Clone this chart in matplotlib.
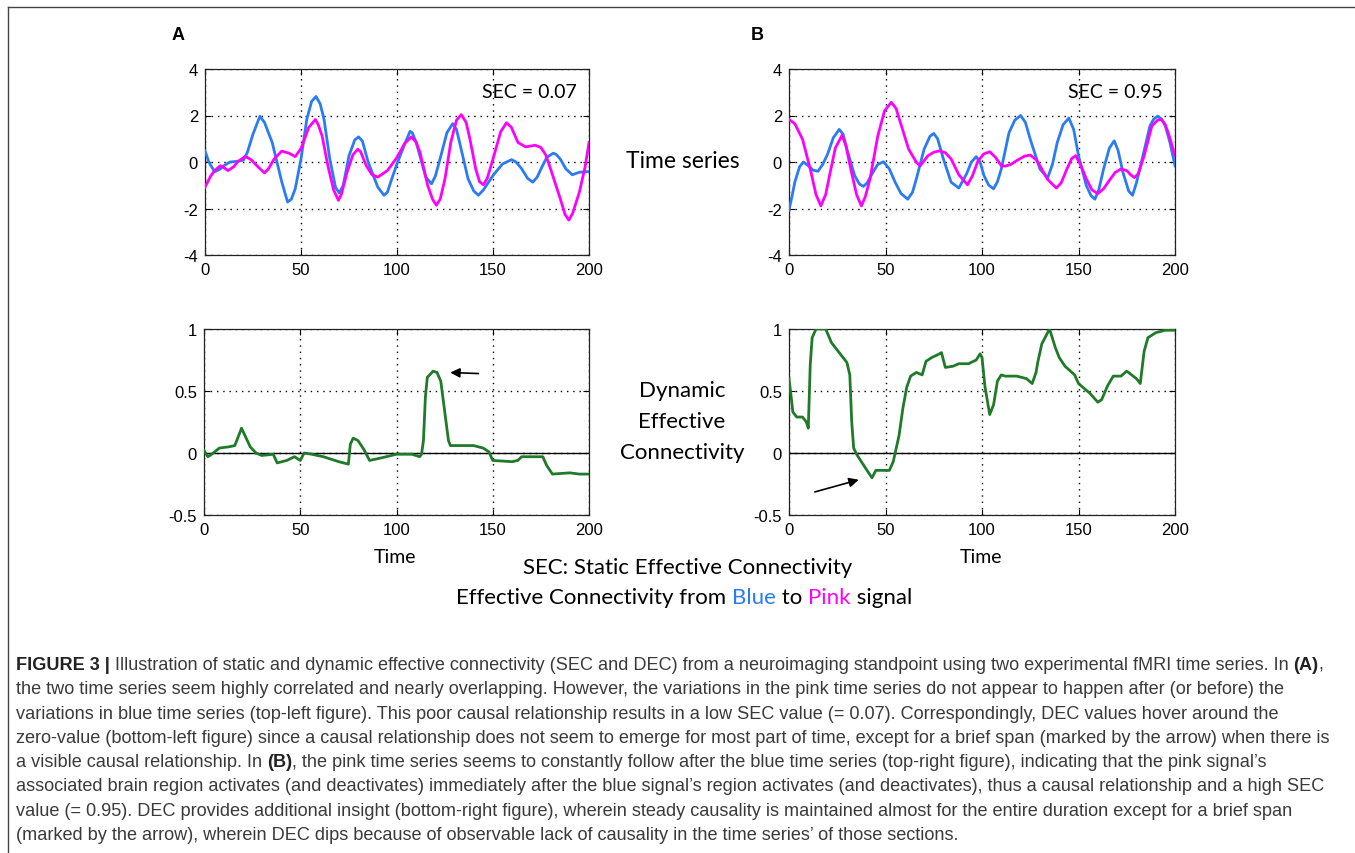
import matplotlib
matplotlib.use('Agg')
import matplotlib.pyplot as plt
from matplotlib.lines import Line2D

plt.rcParams['font.family'] = ['Liberation Sans', 'DejaVu Sans']

# ---- data ----
blue_a_t = [0, 2, 5, 8, 10, 13, 17, 20, 22, 25, 28.6, 31, 35, 40, 43, 45, 47, 50, 53, 55.5, 57.8, 60, 62, 65, 68, 70,
            72, 75, 78, 80, 82, 85, 90, 93.2, 95, 97, 100, 104, 106.8, 108, 110, 115, 118, 120, 122, 126, 129, 131, 133,
            137, 140, 142.4, 145, 150, 155, 159.7, 162, 165, 168, 170.7, 173, 175, 178, 181.4, 183, 185, 188, 191.3,
            195, 200]
blue_a_v = [0.48, 0.0, -0.42, -0.3, -0.15, 0.0, 0.03, 0.08, 0.4, 1.2, 1.97, 1.7, 0.84, -0.86, -1.72, -1.6, -1.15, 0.13,
            1.83, 2.6, 2.82, 2.5, 1.83, 0.13, -1.1, -1.33, -1.0, 0.27, 0.95, 1.08, 0.9, -0.01, -1.08, -1.43, -1.3, -0.79,
            -0.08, 0.77, 1.32, 1.25, 0.84, -0.65, -0.94, -0.6, 0.0, 1.26, 1.65, 1.4, 0.7, -0.72, -1.25, -1.43, -1.2,
            -0.58, -0.08, 0.1, 0.0, -0.3, -0.7, -0.87, -0.65, -0.3, 0.2, 0.38, 0.32, 0.13, -0.3, -0.55, -0.44, -0.41]

pink_a_t = [0, 3, 5, 8, 10, 12, 15, 17, 21, 24, 27, 31, 33, 36, 40, 44, 47, 50, 54, 57.5, 59, 61, 64, 67, 69.5, 71, 74,
            77, 79.5, 81, 84, 87, 90, 95, 100, 104, 107.5, 110, 112, 116, 118.5, 120.5, 122.5, 125, 128, 131, 133.5,
            136, 138, 141, 143, 145, 147, 150, 154, 157, 159.5, 163, 167, 172, 175, 177.5, 180, 185, 187.5, 189.5,
            191.5, 195, 198, 200]
pink_a_v = [-1.08, -0.6, -0.37, -0.16, -0.25, -0.37, -0.2, 0.01, 0.24, 0.1, -0.16, -0.47, -0.3, 0.13, 0.47, 0.37, 0.23,
            0.58, 1.48, 1.83, 1.6, 1.12, -0.16, -1.2, -1.65, -1.4, -0.44, 0.3, 0.55, 0.45, -0.16, -0.55, -0.65, -0.37,
            0.2, 0.8, 1.08, 0.85, 0.41, -1.01, -1.6, -1.86, -1.6, -0.72, 0.84, 1.8, 2.04, 1.7, 0.98, -0.3, -0.85, -0.98,
            -0.7, 0.13, 1.3, 1.69, 1.5, 0.84, 0.65, 0.72, 0.62, 0.3, -0.3, -1.57, -2.25, -2.5, -2.2, -1.29, -0.2, 0.84]

blue_b_t = [0, 1.5, 3, 5.5, 7.5, 10, 12.5, 15, 17.5, 20, 23, 26, 28, 30, 34, 36.5, 38.5, 40.5, 43, 46, 49, 52, 55, 58,
            61.5, 64, 66, 70, 73, 75, 77, 80, 84, 88, 92, 94.5, 97, 99, 101, 103.5, 106, 108, 110, 114, 117, 120, 122.5,
            125, 130, 134, 136.5, 139, 142, 145, 147.5, 150, 154, 156.5, 158.5, 160.5, 163, 166, 168.5, 170.5, 173,
            176, 178, 180, 183, 187, 189, 191, 193, 195, 197.5, 200]
blue_b_v = [-2.07, -1.5, -0.87, -0.2, 0.0, -0.16, -0.35, -0.4, -0.1, 0.34, 1.05, 1.4, 1.2, 0.55, -0.58, -0.95, -1.05,
            -0.9, -0.51, -0.1, 0.01, -0.3, -0.87, -1.35, -1.6, -1.3, -0.72, 0.55, 1.1, 1.23, 1.0, 0.13, -0.87, -1.12,
            -0.51, 0.0, 0.23, 0.0, -0.58, -1.0, -1.15, -0.85, -0.3, 1.26, 1.8, 2.0, 1.7, 0.98, -0.3, -0.69, -0.1, 0.84,
            1.6, 1.89, 1.4, 0.27, -1.0, -1.45, -1.6, -1.2, -0.3, 0.6, 0.91, 0.5, -0.44, -1.25, -1.43, -0.9, 0.13, 1.55,
            1.85, 1.97, 1.85, 1.55, 0.8, -0.16]

pink_b_t = [0, 3, 7, 11, 14, 16.5, 19, 21, 24, 27.5, 29.5, 32, 35, 37.5, 39.5, 42, 46, 49.5, 53, 55.5, 58, 62, 66, 68,
            72, 75, 78, 81, 84, 88, 92.5, 95, 98, 101, 104, 107, 110, 112, 115, 118, 122, 125, 128, 130, 134, 138.5,
            141, 144, 146.5, 148.5, 151, 154, 157, 160, 163, 166, 169, 172, 175, 177, 179, 181, 184, 188, 191, 193,
            195, 197, 200]
pink_b_v = [1.83, 1.65, 0.98, -0.3, -1.4, -1.89, -1.4, -0.58, 0.6, 1.15, 0.7, -0.3, -1.4, -1.89, -1.5, -0.72, 1.12, 2.2,
            2.57, 2.3, 1.62, 0.55, -0.01, -0.16, 0.27, 0.42, 0.48, 0.4, 0.13, -0.55, -0.98, -0.6, 0.06, 0.35, 0.44, 0.2,
            -0.16, -0.18, -0.1, 0.06, 0.25, 0.3, 0.1, -0.16, -0.75, -1.12, -0.9, -0.3, 0.15, 0.27, -0.1, -0.72, -1.2,
            -1.36, -1.15, -0.79, -0.45, -0.3, -0.37, -0.55, -0.67, -0.5, 0.27, 1.55, 1.8, 1.83, 1.6, 1.12, 0.27]

dec_a_t = [0, 2, 4, 8, 13, 16, 18, 19.5, 21, 24, 27, 30, 36, 38, 43, 47, 50, 52, 56, 62, 70, 75, 76, 77.5, 80, 83, 86,
           92, 100, 108, 112, 113, 114, 115, 116, 119, 121, 123, 125, 127, 128, 135, 140, 145, 148, 150, 160, 163, 165,
           170, 176, 178, 181, 190, 195, 200]
dec_a_v = [0.02, -0.03, -0.01, 0.04, 0.05, 0.06, 0.14, 0.2, 0.15, 0.05, 0.0, -0.02, -0.01, -0.08, -0.06, -0.03, -0.06,
           0.0, -0.01, -0.03, -0.07, -0.09, 0.07, 0.12, 0.1, 0.03, -0.06, -0.04, -0.01, -0.01, -0.03, -0.01, 0.1, 0.45,
           0.61, 0.66, 0.65, 0.58, 0.34, 0.1, 0.06, 0.06, 0.06, 0.04, 0.01, -0.06, -0.07, -0.06, -0.03, -0.03, -0.03,
           -0.1, -0.17, -0.16, -0.17, -0.17]

dec_b_t = [0, 1, 2, 4, 7, 9, 10, 11, 12, 14, 19, 22, 26, 30, 31.5, 32.5, 33.5, 35, 40, 43, 45, 48, 52, 54, 57, 59, 61,
           63, 66, 69, 71, 74, 78, 79, 81, 85, 88, 93, 97, 99, 100, 101.5, 103, 104, 106, 108, 110, 112, 118, 123, 126,
           128, 129, 131, 134, 135, 138, 140, 143, 148, 150, 153, 156, 160, 162, 165, 168, 172, 175, 180, 182, 183,
           184, 186, 190, 195, 200]
dec_b_v = [0.6, 0.47, 0.33, 0.29, 0.29, 0.25, 0.2, 0.71, 0.93, 1.0, 1.0, 0.89, 0.81, 0.73, 0.63, 0.25, 0.04, -0.01,
           -0.13, -0.2, -0.14, -0.14, -0.14, -0.07, 0.14, 0.36, 0.53, 0.62, 0.65, 0.63, 0.74, 0.77, 0.8, 0.81, 0.69, 0.7,
           0.72, 0.72, 0.75, 0.8, 0.77, 0.54, 0.4, 0.31, 0.39, 0.58, 0.63, 0.62, 0.62, 0.6, 0.56, 0.65, 0.74, 0.88, 0.97,
           1.0, 0.85, 0.77, 0.7, 0.63, 0.56, 0.52, 0.48, 0.41, 0.43, 0.54, 0.62, 0.62, 0.66, 0.6, 0.56, 0.69, 0.82, 0.93,
           0.97, 0.99, 0.99]

x_ticks = [0, 50, 100, 150, 200]
ts_ticks = [-4, -2, 0, 2, 4]
dec_ticks = [-0.5, 0, 0.5, 1]
sec_labels = ['SEC = 0.07', 'SEC = 0.95']
arrow_a = ((144, 0.64), (126.5, 0.65))
arrow_b = ((12, -0.32), (37.5, -0.21))

BLUE = '#2a7bf4'
PINK = '#ff00ff'
GREEN = '#1f7a2a'
TXT = 'Lato'

W, H = 1355, 854
fig = plt.figure(figsize=(W / 100, H / 100), dpi=100)
fig.patch.set_facecolor('white')


def make_axes(left, top, right, bottom):
    return fig.add_axes([left / W, 1 - bottom / H, (right - left) / W, (bottom - top) / H])


def style(ax, yticks):
    ax.set_xlim(0, 200)
    ax.set_ylim(yticks[0], yticks[-1])
    ax.set_xticks(x_ticks)
    ax.set_yticks(yticks)
    ax.set_yticklabels([('%g' % v) for v in yticks])
    ax.tick_params(direction='in', top=True, right=True, length=4, width=0.8, labelsize=12, pad=5,
                   colors='black')
    ax.grid(True, color='black', linestyle=(0, (1, 3.5)), linewidth=1.0)
    for s in ax.spines.values():
        s.set_linewidth(0.9)
        s.set_color('#222222')


ax_ta = make_axes(205, 70, 589, 256)
ax_tb = make_axes(789, 70, 1175, 256)
ax_ba = make_axes(204, 330, 589, 516)
ax_bb = make_axes(789, 330, 1175, 516)

for ax, bt, bv, pt, pv, lab in [(ax_ta, blue_a_t, blue_a_v, pink_a_t, pink_a_v, sec_labels[0]),
                                (ax_tb, blue_b_t, blue_b_v, pink_b_t, pink_b_v, sec_labels[1])]:
    style(ax, ts_ticks)
    ax.plot(bt, bv, color=BLUE, lw=2.0, zorder=3)
    ax.plot(pt, pv, color=PINK, lw=2.0, zorder=3)
    ax.text(0.969, 0.88, lab, transform=ax.transAxes, ha='right', va='center', fontsize=14, family=TXT)

for ax, t, v, arr in [(ax_ba, dec_a_t, dec_a_v, arrow_a), (ax_bb, dec_b_t, dec_b_v, arrow_b)]:
    style(ax, dec_ticks)
    ax.axhline(0, color='black', lw=1.0, zorder=2)
    ax.plot(t, v, color=GREEN, lw=2.0, zorder=3)
    ax.annotate('', xy=arr[1], xytext=arr[0],
                arrowprops=dict(arrowstyle='-|>', color='black', lw=1.2, mutation_scale=14))


def ftext(x, y, s, **kw):
    return fig.text(x / W, 1 - y / H, s, **kw)


ftext(178, 35, 'A', ha='center', va='center', fontsize=13, fontweight='bold')
ftext(757, 35, 'B', ha='center', va='center', fontsize=13, fontweight='bold')
ftext(683, 162, 'Time series', ha='center', va='center', fontsize=16.5, family=TXT)
ftext(682, 422, 'Dynamic\nEffective\nConnectivity', ha='center', va='center', fontsize=16, family=TXT,
      linespacing=1.7)
ftext(395, 558, 'Time', ha='center', va='center', fontsize=14, family=TXT)
ftext(981, 558, 'Time', ha='center', va='center', fontsize=14, family=TXT)
ftext(688, 568, 'SEC: Static Effective Connectivity', ha='center', va='center', fontsize=16, family=TXT)

renderer = fig.canvas.get_renderer()


def piece_width(s, **kw):
    a = fig.text(0, 0, '|' + s + '|', **kw)
    b = fig.text(0, 0, '||', **kw)
    w = a.get_window_extent(renderer).width - b.get_window_extent(renderer).width
    a.remove()
    b.remove()
    return w


def draw_pieces(x, y, pieces, center=False, **kw):
    widths = [piece_width(s, **dict(kw, **p)) for s, p in pieces]
    if center:
        x = x - sum(widths) / 2
    for (s, p), w in zip(pieces, widths):
        ftext(x, y, s, va='baseline', **dict(kw, **p))
        x += w


draw_pieces(684, 604, [('Effective Connectivity from ', {}), ('Blue', {'color': BLUE}), (' to ', {}),
                       ('Pink', {'color': PINK}), (' signal', {})],
            center=True, fontsize=16, family=TXT)

# caption
BOLD = {'fontweight': 'bold', 'color': '#222222'}
caption = [
    [('FIGURE 3 | ', BOLD), ('Illustration of static and dynamic effective connectivity (SEC and DEC) from a '
                             'neuroimaging standpoint using two experimental fMRI time series. In ', {}),
     ('(A)', BOLD), (',', {})],
    [('the two time series seem highly correlated and nearly overlapping. However, the variations in the pink time '
      'series do not appear to happen after (or before) the', {})],
    [('variations in blue time series (top-left figure). This poor causal relationship results in a low SEC value '
      '(= 0.07). Correspondingly, DEC values hover around the', {})],
    [('zero-value (bottom-left figure) since a causal relationship does not seem to emerge for most part of time, '
      'except for a brief span (marked by the arrow) when there is', {})],
    [('a visible causal relationship. In ', {}), ('(B)', BOLD),
     (', the pink time series seems to constantly follow after the blue time series (top-right figure), indicating '
      'that the pink signal\u2019s', {})],
    [('associated brain region activates (and deactivates) immediately after the blue signal\u2019s region activates '
      '(and deactivates), thus a causal relationship and a high SEC', {})],
    [('value (= 0.95). DEC provides additional insight (bottom-right figure), wherein steady causality is maintained '
      'almost for the entire duration except for a brief span', {})],
    [('(marked by the arrow), wherein DEC dips because of observable lack of causality in the time series\u2019 of '
      'those sections.', {})],
]
for i, line in enumerate(caption):
    draw_pieces(16, 670 + 24.3 * i, line, fontsize=13.1, color='#3a3a3a')

# frame
fig.add_artist(Line2D([8 / W, 1], [1 - 8 / H, 1 - 8 / H], transform=fig.transFigure, color='#444444', lw=1.0))
fig.add_artist(Line2D([8 / W, 8 / W], [0, 1 - 8 / H], transform=fig.transFigure, color='#444444', lw=1.0))

fig.savefig('out.png', dpi=100)
